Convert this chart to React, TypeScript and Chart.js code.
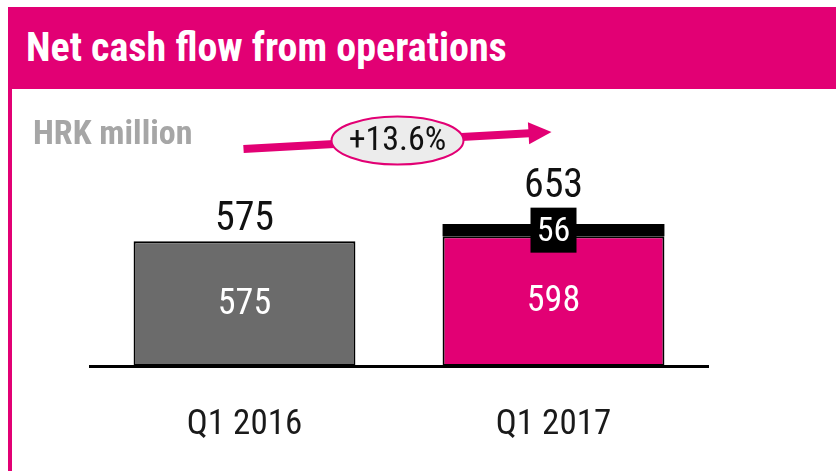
import React, { useEffect, useRef } from "react";
import { Chart, registerables } from "chart.js";

Chart.register(...registerables);

const categories = ["Q1 2016", "Q1 2017"];
const baseValues = [575, 598];
const topValues: (number | null)[] = [null, 56];
const totalValues = [575, 653];
const growthLabel = "+13.6%";
const titleText = "Net cash flow from operations";
const unitText = "HRK million";

const MAGENTA = "#e20074";
const GREY = "#6b6b6b";
const FONT = '"Liberation Sans Narrow", "Arial Narrow", "Roboto Condensed", "DejaVu Sans Condensed", sans-serif';

const overlay = {
  id: "overlay",
  afterDatasetsDraw(chart: any) {
    const ctx = chart.ctx as CanvasRenderingContext2D;
    const m0 = chart.getDatasetMeta(0);
    const m1 = chart.getDatasetMeta(1);
    ctx.save();
    ctx.textAlign = "center";
    categories.forEach((_, i) => {
      const b = m0.data[i];
      const x = b.x;
      ctx.fillStyle = "#ffffff";
      ctx.font = `36px ${FONT}`;
      ctx.textBaseline = "middle";
      ctx.fillText(String(baseValues[i]), x, (b.y + b.base) / 2 + 1);
      let top = b.y;
      const tv = topValues[i];
      if (tv != null) {
        const t = m1.data[i];
        const cy = (t.y + t.base) / 2;
        const bw = 46;
        const bh = 45;
        ctx.fillStyle = "#000000";
        ctx.fillRect(x - bw / 2, cy - bh / 2, bw, bh);
        ctx.fillStyle = "#ffffff";
        ctx.font = `34px ${FONT}`;
        ctx.fillText(String(tv), x, cy + 2);
        top = Math.min(t.y, cy - bh / 2);
      }
      ctx.fillStyle = "#111111";
      ctx.font = `40px ${FONT}`;
      ctx.textBaseline = "alphabetic";
      ctx.fillText(String(totalValues[i]), x, top - 11);
    });

    // growth arrow
    const x0 = m0.data[0].x - 1;
    const y0 = 149;
    const x1 = m0.data[1].x - 2;
    const y1 = 132;
    const ang = Math.atan2(y1 - y0, x1 - x0);
    const headLen = 23;
    const headHalf = 11;
    const bx = x1 - headLen * Math.cos(ang);
    const by = y1 - headLen * Math.sin(ang);
    ctx.strokeStyle = MAGENTA;
    ctx.lineWidth = 8;
    ctx.beginPath();
    ctx.moveTo(x0, y0);
    ctx.lineTo(bx + 1, by);
    ctx.stroke();
    ctx.fillStyle = MAGENTA;
    ctx.beginPath();
    ctx.moveTo(x1, y1);
    ctx.lineTo(bx + headHalf * Math.sin(ang), by - headHalf * Math.cos(ang));
    ctx.lineTo(bx - headHalf * Math.sin(ang), by + headHalf * Math.cos(ang));
    ctx.closePath();
    ctx.fill();

    const ex = (x0 + x1) / 2;
    const ey = (y0 + y1) / 2;
    ctx.beginPath();
    ctx.ellipse(ex, ey, 66, 24, 0, 0, Math.PI * 2);
    ctx.fillStyle = "#ececec";
    ctx.fill();
    ctx.lineWidth = 2;
    ctx.strokeStyle = MAGENTA;
    ctx.stroke();
    ctx.fillStyle = "#111111";
    ctx.font = `34px ${FONT}`;
    ctx.textBaseline = "middle";
    ctx.fillText(growthLabel, ex, ey + 1);
    ctx.restore();
  },
};

export default function App() {
  const ref = useRef<HTMLCanvasElement | null>(null);
  useEffect(() => {
    if (!ref.current) return;
    const chart = new Chart(ref.current, {
      type: "bar",
      data: {
        labels: categories,
        datasets: [
          {
            data: baseValues,
            backgroundColor: [GREY, MAGENTA],
            borderColor: "#000000",
            borderWidth: 2,
            borderSkipped: false,
            categoryPercentage: 1,
            barPercentage: 0.718,
          },
          {
            data: topValues,
            backgroundColor: "#000000",
            borderWidth: 0,
            categoryPercentage: 1,
            barPercentage: 0.718,
          },
        ],
      },
      options: {
        responsive: false,
        animation: false,
        devicePixelRatio: 1,
        layout: { padding: { left: 90, right: 128, top: 149, bottom: 26 } },
        plugins: { legend: { display: false }, tooltip: { enabled: false } },
        scales: {
          x: {
            stacked: true,
            grid: { display: false, drawTicks: false },
            border: { display: true, color: "#000000", width: 3 },
            ticks: {
              color: "#1a1a1a",
              padding: 38,
              font: { family: FONT, size: 35 },
            },
            afterFit: (s: any) => {
              s.height = 79;
            },
          },
          y: {
            stacked: true,
            display: false,
            min: 0,
            max: 1000,
          },
        },
      },
      plugins: [overlay],
    } as any);
    return () => chart.destroy();
  }, []);

  return (
    <div
      style={{
        position: "absolute",
        left: 0,
        top: 0,
        width: 836,
        height: 471,
        overflow: "hidden",
        background: "#ffffff",
      }}
    >
      <canvas
        ref={ref}
        width={836}
        height={471}
        style={{ position: "absolute", left: 0, top: 0, width: 836, height: 471 }}
      />
      <div
        style={{
          position: "absolute",
          left: 8,
          top: 7,
          width: 828,
          height: 82,
          background: MAGENTA,
        }}
      />
      <div
        style={{
          position: "absolute",
          left: 26,
          top: 28,
          fontFamily: FONT,
          fontWeight: "bold",
          fontSize: 40,
          lineHeight: "40px",
          color: "#ffffff",
          whiteSpace: "nowrap",
        }}
      >
        {titleText}
      </div>
      <div
        style={{
          position: "absolute",
          left: 8,
          top: 89,
          width: 4,
          height: 382,
          background: MAGENTA,
        }}
      />
      <div
        style={{
          position: "absolute",
          left: 33,
          top: 115,
          fontFamily: FONT,
          fontWeight: "bold",
          fontSize: 34,
          lineHeight: "34px",
          color: "#a6a6a6",
          whiteSpace: "nowrap",
        }}
      >
        {unitText}
      </div>
    </div>
  );
}
